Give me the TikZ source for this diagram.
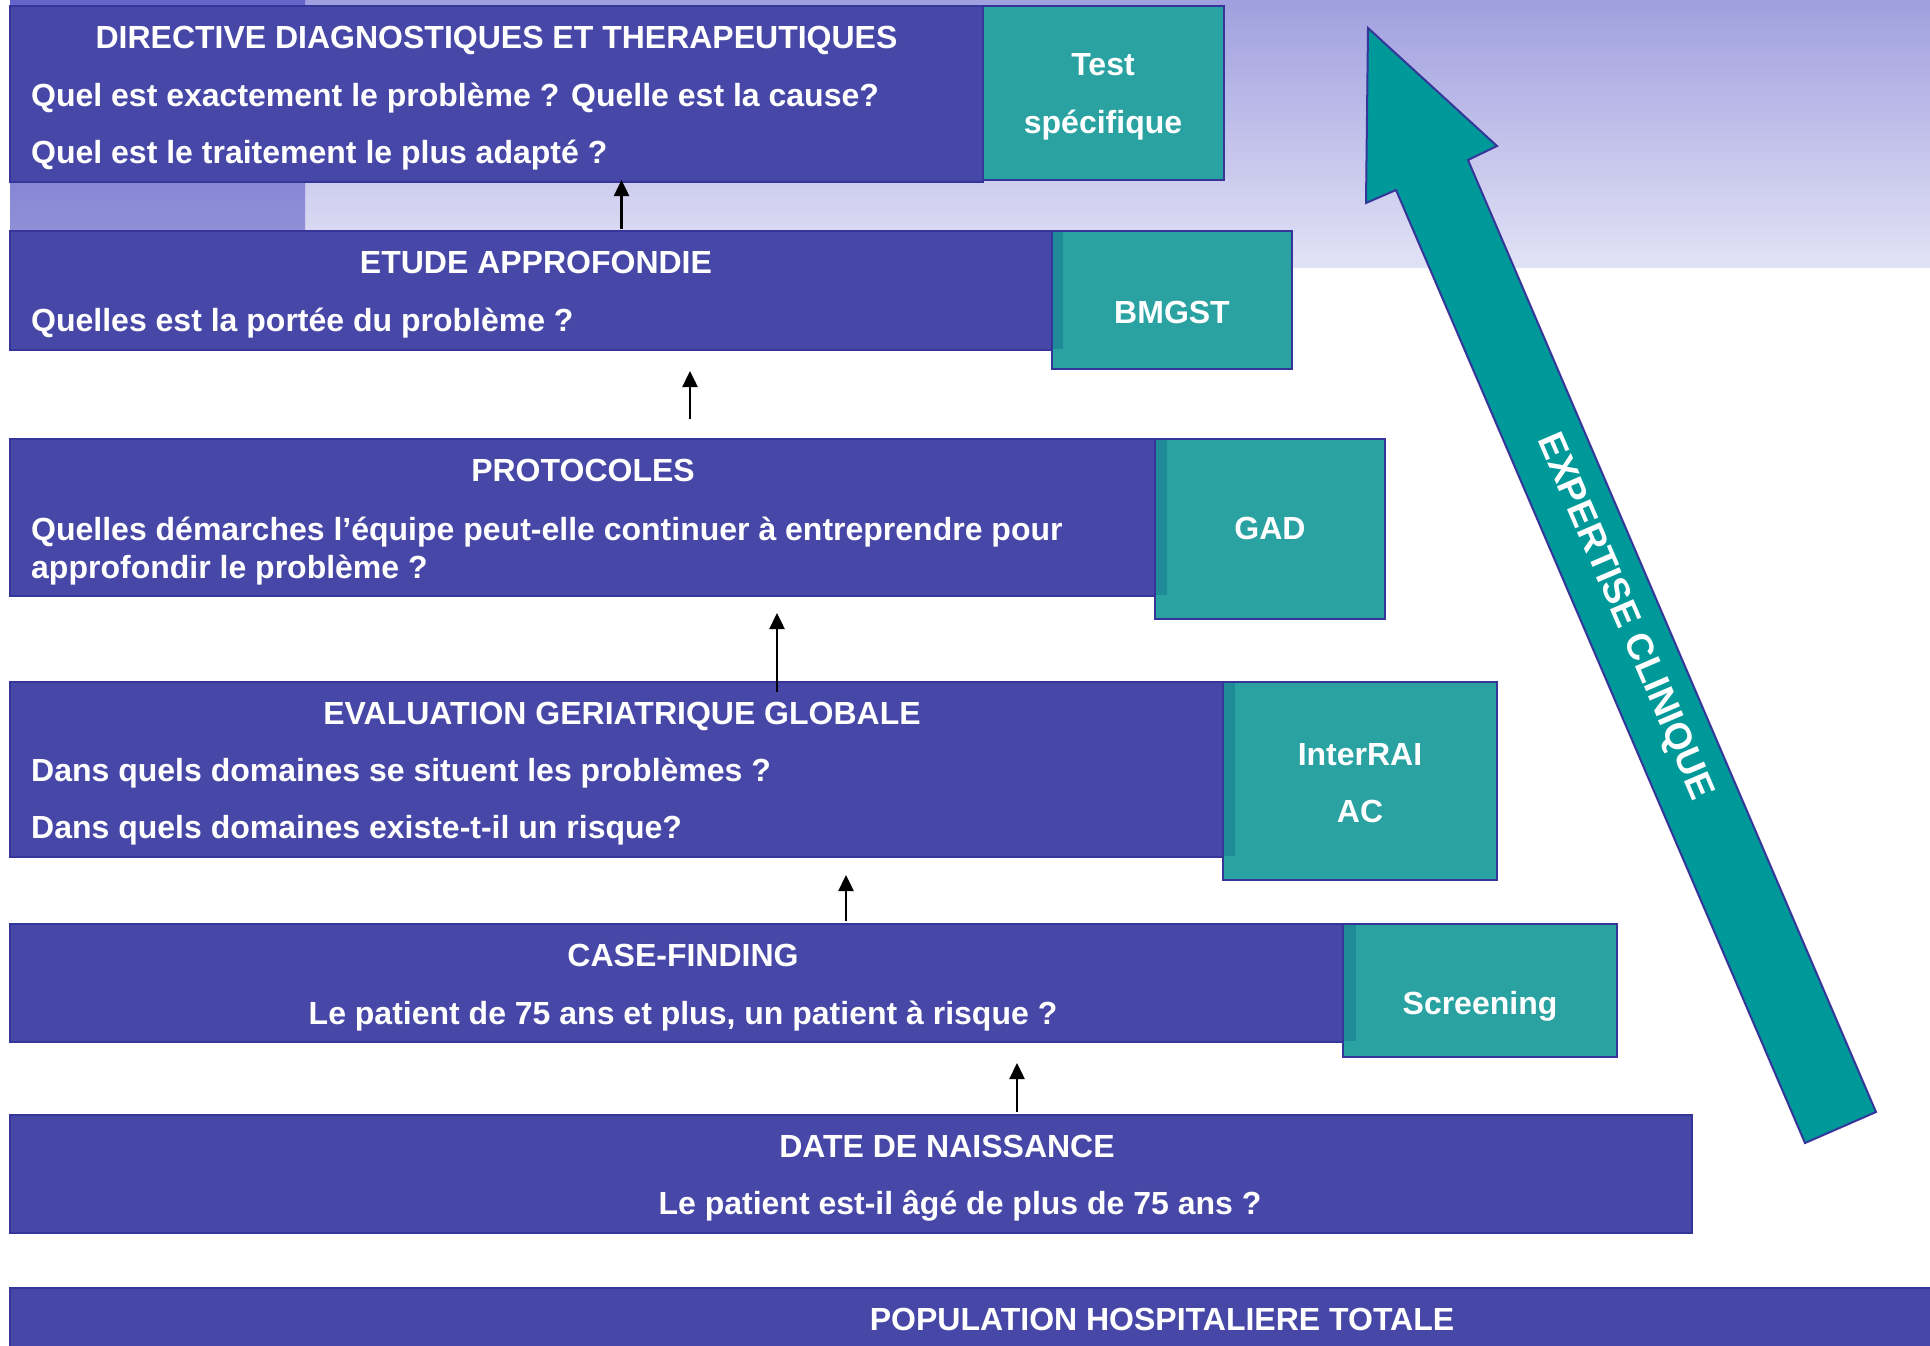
\documentclass[tikz,border=0pt]{standalone}
\usepackage{fontspec}
\setmainfont{Liberation Sans}
\usetikzlibrary{arrows.meta}
\definecolor{barblue}{HTML}{4747A7}
\definecolor{barline}{HTML}{35359A}
\definecolor{tealfill}{HTML}{2AA2A2}
\definecolor{tealdark}{HTML}{1F8A98}
\definecolor{tealline}{HTML}{35359A}
\definecolor{arrowteal}{HTML}{009999}
\definecolor{bgtop}{HTML}{A09FDF}
\definecolor{bgbot}{HTML}{E2E2F6}
\definecolor{striptop}{HTML}{6464CA}
\definecolor{stripbot}{HTML}{9696DA}
\begin{document}
\begin{tikzpicture}[x=1pt,y=-1pt,
  bar/.style={draw=barline, fill=barblue, line width=1.5pt, inner sep=0pt, outer sep=0pt, anchor=north west},
  tealbox/.style={draw=tealline, fill=tealfill, line width=2pt, inner sep=0pt, outer sep=0pt, anchor=north west},
  lbl/.style={text=white, font=\fontsize{32}{38}\selectfont\bfseries, inner sep=0pt, anchor=base},
  lbll/.style={lbl, anchor=base west},
  uparrow/.style={-{Triangle[length=16pt,width=15pt]}, line width=2.5pt, black},
  bigarrow/.style={fill=arrowteal, draw=barline, line width=2pt, line join=miter}
]
\useasboundingbox (0,0) rectangle (1930,1345);
\fill[white] (0,0) rectangle (1930,1345);
% background
\shade[top color=bgtop, bottom color=bgbot] (10,0) rectangle (1930,267);
\shade[top color=striptop, bottom color=stripbot] (10,0) rectangle (305,267);

% bars and boxes
\node[bar, minimum width=973pt, minimum height=176pt] (b1) at (10,6) {};
\node[tealbox, minimum width=241pt, minimum height=174pt] (t1) at (983,6) {};

\node[bar, minimum width=1053pt, minimum height=119pt] (b2) at (10,231) {};
\node[tealbox, minimum width=240pt, minimum height=138pt] (t2) at (1052,231) {};
\fill[tealdark] (1053,232) rectangle (1063,349);

\node[bar, minimum width=1157pt, minimum height=157pt] (b3) at (10,439) {};
\node[tealbox, minimum width=230pt, minimum height=180pt] (t3) at (1155,439) {};
\fill[tealdark] (1156,440) rectangle (1167,595);

\node[bar, minimum width=1225pt, minimum height=175pt] (b4) at (10,682) {};
\node[tealbox, minimum width=274pt, minimum height=198pt] (t4) at (1223,682) {};
\fill[tealdark] (1224,683) rectangle (1235,856);

\node[bar, minimum width=1346pt, minimum height=118pt] (b5) at (10,924) {};
\node[tealbox, minimum width=274pt, minimum height=133pt] (t5) at (1343,924) {};
\fill[tealdark] (1344,925) rectangle (1356,1041);

\node[bar, minimum width=1682pt, minimum height=118pt] (b6) at (10,1115) {};
\node[bar, minimum width=1930pt, minimum height=70pt] (b7) at (10,1288) {};

% big arrow
\draw[bigarrow] (1368,28) -- (1497,146) -- (1468,160) -- (1876,1112) -- (1805,1143) -- (1396,190) -- (1366,203) -- cycle;
\node[text=white, font=\fontsize{37}{42}\selectfont\bfseries, rotate=-66.7, inner sep=0pt] (expert) at (1624,617) {EXPERTISE CLINIQUE};

% texts
\node[lbl] (title1) at (496.5,48) {DIRECTIVE DIAGNOSTIQUES ET THERAPEUTIQUES};
\node[lbll] (q1a) at (31,106) {Quel est exactement le problème ? Quelle est la cause?};
\node[lbll] (q1b) at (31,163) {Quel est le traitement le plus adapté ?};
\node[lbl] (test1) at (1103,75) {Test};
\node[lbl] (test2) at (1103,133) {spécifique};

\node[lbl] (title2) at (536,273) {ETUDE APPROFONDIE};
\node[lbll] (q2) at (31,331) {Quelles est la portée du problème ?};
\node[lbl] (bmgst) at (1172,323) {BMGST};

\node[lbl] (title3) at (583,481) {PROTOCOLES};
\node[lbll] (q3a) at (31,540) {Quelles démarches l’équipe peut-elle continuer à entreprendre pour};
\node[lbll] (q3b) at (31,578) {approfondir le problème ?};
\node[lbl] (gad) at (1270,539) {GAD};

\node[lbl] (title4) at (622,724) {EVALUATION GERIATRIQUE GLOBALE};
\node[lbll] (q4a) at (31,781) {Dans quels domaines se situent les problèmes ?};
\node[lbll] (q4b) at (31,838) {Dans quels domaines existe-t-il un risque?};
\node[lbl] (interrai) at (1360,765) {InterRAI};
\node[lbl] (ac) at (1360,822) {AC};

\node[lbl] (title5) at (683,966) {CASE-FINDING};
\node[lbl] (q5) at (683,1024) {Le patient de 75 ans et plus, un patient à risque ?};
\node[lbl] (screening) at (1480,1014) {Screening};

\node[lbl] (title6) at (947,1157) {DATE DE NAISSANCE};
\node[lbl] (q6) at (960,1214) {Le patient est-il âgé de plus de 75 ans ?};

\node[lbl] (title7) at (1162,1330) {POPULATION HOSPITALIERE TOTALE};

% small arrows
\coordinate (a1s) at (621.5,229);
\coordinate (a1e) at (621.5,180);
\coordinate (a2s) at (690,419);
\coordinate (a2e) at (690,371);
\coordinate (a3s) at (777,692);
\coordinate (a3e) at (777,613);
\coordinate (a4s) at (846,921);
\coordinate (a4e) at (846,875);
\coordinate (a5s) at (1017,1112);
\coordinate (a5e) at (1017,1063);
\draw[uparrow] (a1s) -- (a1e);
\draw[uparrow] (a2s) -- (a2e);
\draw[uparrow] (a3s) -- (a3e);
\draw[uparrow] (a4s) -- (a4e);
\draw[uparrow] (a5s) -- (a5e);
\end{tikzpicture}
\end{document}
